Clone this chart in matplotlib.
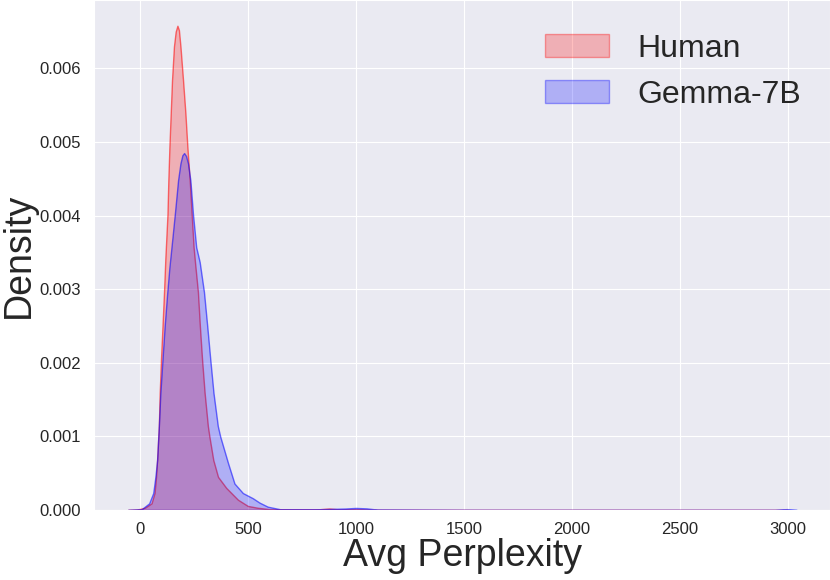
import matplotlib
matplotlib.use("Agg")
import matplotlib.pyplot as plt
from matplotlib.patches import Patch
from matplotlib.colors import to_rgba
import seaborn as sns

# Density curves
human_x = [-55, -14, 23, 54, 68, 75, 80, 88, 92, 98, 105, 112, 118, 128, 132, 137,
           143, 149, 158, 166, 174, 181, 188, 200, 211, 220, 231, 240, 249, 256,
           269, 278, 288, 300, 315, 322, 340, 362, 400, 454, 500, 546, 600, 700,
           820, 877, 930, 1000, 1050, 1100, 1500, 2000, 2500, 3000]
human_y = [0.0, 0.000005, 0.00003, 0.00009, 0.00023, 0.00045, 0.00068, 0.00114,
           0.00159, 0.00205, 0.0025, 0.00296, 0.00341, 0.00402, 0.00448, 0.00494,
           0.00539, 0.00584, 0.0063, 0.0065, 0.00658, 0.00652, 0.0063, 0.00584,
           0.00539, 0.00494, 0.00448, 0.00402, 0.00357, 0.00335,
           0.00296, 0.0025, 0.00205, 0.00159, 0.00114, 0.00100, 0.00068, 0.00045,
           0.00030, 0.00014, 0.000055, 0.00003, 0.000012, 0.000008,
           0.000008, 0.00002, 0.000006, 0.000012, 0.000005, 0.000002, 0.0, 0.0, 0.0, 0.0]

gemma_x = [-55, 8, 43, 62, 72, 80, 88, 95, 105, 115, 126, 137, 151, 163, 177, 188,
           197, 205, 214, 223, 234, 246, 261, 277, 297, 312, 326, 341, 361, 372,
           408, 438, 477, 523, 554, 592, 650, 800, 950, 1000, 1050, 1100, 1500,
           2000, 2500, 2940, 2995, 3041]
gemma_y = [0.0, 0.00001, 0.00009, 0.00023, 0.00045, 0.00068, 0.00114, 0.00159,
           0.00205, 0.0025, 0.00292, 0.00330, 0.00370, 0.00405, 0.00448, 0.00471,
           0.00482, 0.00485, 0.00481, 0.00471, 0.00448, 0.00402, 0.00357, 0.00337,
           0.00296, 0.0025, 0.00205, 0.00159, 0.00114, 0.00100,
           0.00064, 0.00036, 0.00023, 0.00016, 0.0001, 0.000045, 0.00001, 0.000008,
           0.00002, 0.000028, 0.000022, 0.000005, 0.0, 0.0, 0.0, 0.0, 0.000012, 0.0]

series_names = ["Human", "Gemma-7B"]
series_colors = ["red", "blue"]

xticks = [0, 500, 1000, 1500, 2000, 2500, 3000]
yticks = [0.000, 0.001, 0.002, 0.003, 0.004, 0.005, 0.006]

sns.set_style("darkgrid")
plt.rcParams['font.family'] = ['Liberation Sans', 'DejaVu Sans']

fig = plt.figure(figsize=(8.3, 5.8), dpi=100)
ax = fig.add_axes([0.1133, 0.1207, 0.8867, 0.8793])

curves = [(human_x, human_y), (gemma_x, gemma_y)]
handles = []
for (xs, ys), name, col in zip(curves, series_names, series_colors):
    ax.fill_between(xs, ys, 0, facecolor=to_rgba(col, 0.25),
                    edgecolor=to_rgba(col, 0.55), linewidth=1.0)
    handles.append(Patch(facecolor=to_rgba(col, 0.25), edgecolor=to_rgba(col, 0.35),
                         linewidth=1.0, label=name))

ax.set_xlim(-212, 3195)
ax.set_ylim(0, 0.00693)
ax.set_xticks(xticks)
ax.set_xticklabels([str(t) for t in xticks])
ax.set_yticks(yticks)
ax.set_yticklabels([f"{t:.3f}" for t in yticks])
ax.tick_params(labelsize=12, colors="#262626")
ax.tick_params(axis="y", pad=6)
ax.tick_params(axis="x", pad=5)
ax.set_xlabel("Avg Perplexity", fontsize=27, color="#262626", labelpad=1)
ax.set_ylabel("Density", fontsize=27, color="#262626", labelpad=2)

ax.legend(handles=handles, loc="upper right", bbox_to_anchor=(1.0, 0.99),
          frameon=False, fontsize=23, handlelength=2.0, handletextpad=0.9)

fig.savefig("out.png", dpi=100)
